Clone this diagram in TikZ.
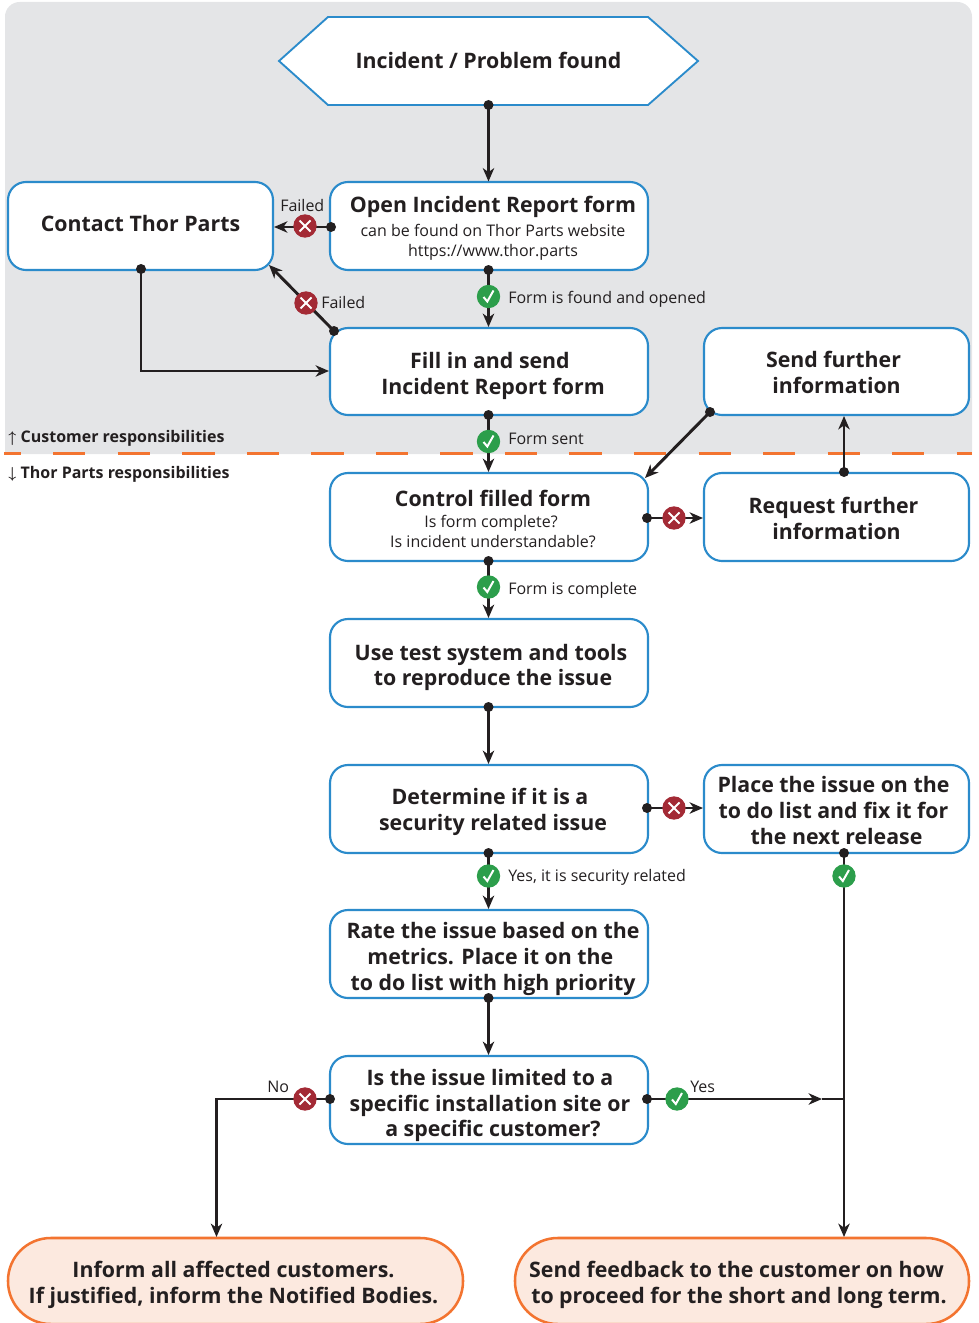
\documentclass[tikz,border=0pt]{standalone}
\usepackage{fontspec}
\setmainfont{Open Sans}
\usetikzlibrary{arrows.meta,shapes.geometric,calc}
\definecolor{ink}{HTML}{231F20}
\definecolor{bluee}{HTML}{2B8BCB}
\definecolor{orangee}{HTML}{F37430}
\definecolor{grayy}{HTML}{E4E5E7}
\definecolor{pill}{HTML}{FCE9DF}
\definecolor{redd}{HTML}{A32A35}
\definecolor{greenn}{HTML}{2C9E4B}
\newcommand{\hd}{\fontsize{16pt}{19.5pt}\selectfont\bfseries}
\newcommand{\sm}{\fontsize{12pt}{15pt}\selectfont\mdseries}
\newcommand{\tp}[1]{\rule{0pt}{\dimexpr 12.2pt+#1pt*3/2\relax}}
\tikzset{
 x=0.75pt,y=-0.75pt,
 every node/.style={text=ink,inner sep=0pt},
 box/.style n args={2}{draw=bluee,fill=white,line width=1.6pt,rounded corners=13.5pt,minimum width=#1*0.75pt,minimum height=#2*0.75pt,align=center,font=\hd},
 endbox/.style={draw=orangee,fill=pill,line width=1.9pt,rounded corners=32pt,minimum width=#1*0.75pt,minimum height=64.5pt,align=center,font=\hd},
 hexa/.style={draw=bluee,fill=white,line width=1.4pt},
 conn/.style={draw=ink,line width=2.2pt,-{Stealth[length=10pt,width=8.5pt,inset=3pt]}},
 plain/.style={draw=ink,line width=2.2pt},
 dotn/.style={circle,fill=ink,minimum size=7.5pt},
 okb/.style={circle,fill=greenn,minimum size=17.5pt,path picture={\draw[white,line width=1.5pt] ([shift={(-5,0.5)}]path picture bounding box.center) -- ([shift={(-1.2,5)}]path picture bounding box.center) -- ([shift={(5,-6)}]path picture bounding box.center);}},
 nob/.style={circle,fill=redd,minimum size=17.5pt,path picture={\draw[white,line width=1.5pt] ([shift={(-5.5,-5.5)}]path picture bounding box.center) -- ([shift={(5.5,5.5)}]path picture bounding box.center) ([shift={(-5.5,5.5)}]path picture bounding box.center) -- ([shift={(5.5,-5.5)}]path picture bounding box.center);}},
 lab/.style={font=\sm,anchor=west},
 resp/.style={font=\fontsize{12pt}{15pt}\selectfont\bfseries,anchor=west},
}
\begin{document}
\begin{tikzpicture}
\useasboundingbox (0,0) rectangle (978,1323);
\begin{scope}
\clip (0,0) rectangle (978,1323);
\fill[grayy,rounded corners=11pt] (5,2) -- (972,2) -- (972,440) -- (972,454) -- (5,454) -- cycle;
\fill[grayy] (5,420) rectangle (972,454);
\draw[orangee,line width=1.9pt,dash pattern=on 24.2pt off 24.2pt,dash phase=11.5pt] (4,453.5) -- (972,453.5);

\node[box={265}{88}] (contact) at (140.5,226) {\rule[-4pt]{0pt}{4pt}Contact Thor Parts};
\node[box={318}{88}] (open) at (489,226) {\tp{2}\hspace*{6pt}Open Incident Report form\\[-1.5pt]{\sm\hspace*{6pt}can be found on Thor Parts website}\\[-4.5pt]{\sm\hspace*{6pt}https://www.thor.parts}};
\node[box={318}{87}] (fill) at (489,371.5) {\tp{4}\hspace*{1.5pt}Fill in and send\\\hspace*{6pt}Incident Report form};
\node[box={265}{87}] (send) at (836.5,371.5) {\tp{1}\hspace*{-4.5pt}Send further\\information};
\node[box={318}{88}] (control) at (489,517) {\tp{2}\hspace*{6pt}Control filled form\\[-4pt]{\sm\hspace*{3pt}Is form complete?}\\[-4.5pt]{\sm\hspace*{6pt}Is incident understandable?}};
\node[box={265}{88}] (request) at (836.5,517) {\tp{1}\hspace*{-4.5pt}Request further\\information};
\node[box={318}{88}] (use) at (489,663) {\tp{4}\hspace*{3pt}Use test system and tools\\[-0.75pt]\hspace*{6pt}to reproduce the issue};
\node[box={318}{88}] (determine) at (489,809) {\tp{3}\hspace*{1.5pt}Determine if it is a\\\hspace*{6pt}security related issue};
\node[box={265}{88}] (place) at (836.5,809) {\tp{1}\hspace*{-4.5pt}Place the issue on the\\\hspace*{-4.5pt}to do list and fix it for\\the next release};
\node[box={318}{88}] (rate) at (489,954) {\tp{5}\hspace*{6pt}Rate the issue based on the\\\hspace*{2pt}metrics. Place it on the\\\hspace*{6pt}to do list with high priority};
\node[box={318}{88}] (issue) at (489,1100) {\tp{5}\hspace*{1.5pt}Is the issue limited to a\\\hspace*{1.5pt}specific installation site or\\[-0.75pt]\hspace*{6pt}a specific customer?};
\node[endbox=455] (inform) at (235.5,1281) {\tp{4}\hspace*{-3pt}Inform all affected customers.\\\hspace*{-3pt}If justified, inform the Notified Bodies.};
\node[endbox=454] (feedback) at (742,1281) {\tp{4}\hspace*{-8.25pt}Send feedback to the customer on how\\\hspace*{-4.5pt}to proceed for the short and long term.};

\draw[hexa] (279,61) -- (328,17) -- (648,17) -- (698,61) -- (648,105) -- (328,105) -- cycle;
\node[font=\hd] (incident) at (488.5,60) {Incident / Problem found};
\coordinate (hexb) at (488.5,105);

% junction points
\node[dotn] (d1) at (hexb) {};
\node[dotn] (d2) at (488.5,270) {};
\node[dotn] (d3) at (331,227) {};
\node[dotn] (d4) at (334,331) {};
\node[dotn] (d5) at (141,269) {};
\node[dotn] (d6) at (488.5,415) {};
\node[dotn] (d7) at (710,412) {};
\node[dotn] (d8) at (844,472) {};
\node[dotn] (d9) at (647,518) {};
\node[dotn] (d10) at (488.5,561) {};
\node[dotn] (d11) at (488.5,707) {};
\node[dotn] (d12) at (647,808) {};
\node[dotn] (d13) at (488.5,853) {};
\node[dotn] (d14) at (844,853) {};
\node[dotn] (d15) at (488.5,998) {};
\node[dotn] (d16) at (330,1099) {};
\node[dotn] (d17) at (647,1099) {};

\coordinate (t1) at (488.5,181.5);
\coordinate (t2) at (488.5,327);
\coordinate (t3) at (274,227);
\coordinate (t4) at (269,265);
\coordinate (b1) at (141,371);
\coordinate (t5) at (329,371);
\coordinate (t6) at (488.5,472);
\coordinate (t7) at (645,478);
\coordinate (t8) at (844,416);
\coordinate (t9) at (703,518);
\coordinate (t10) at (488.5,618);
\coordinate (t11) at (488.5,764);
\coordinate (t12) at (703,808);
\coordinate (t13) at (488.5,909);
\coordinate (t14) at (844,1237);
\coordinate (t15) at (488.5,1055);
\coordinate (b2) at (216.5,1099);
\coordinate (t16) at (216.5,1237);
\coordinate (b3) at (844,1099);
\coordinate (m3) at (822,1099);

\draw[conn] (d1.center) -- (t1);
\draw[conn] (d2.center) -- (t2);
\draw[conn] (d3.center) -- (t3);
\draw[conn] (d4.center) -- (t4);
\draw[conn] (d5.center) -- (b1) -- (t5);
\draw[conn] (d6.center) -- (t6);
\draw[conn] (d7.center) -- (t7);
\draw[conn] (d8.center) -- (t8);
\draw[conn] (d9.center) -- (t9);
\draw[conn] (d10.center) -- (t10);
\draw[conn] (d11.center) -- (t11);
\draw[conn] (d12.center) -- (t12);
\draw[conn] (d13.center) -- (t13);
\draw[conn] (d14.center) -- (t14);
\draw[conn] (d15.center) -- (t15);
\draw[conn] (d16.center) -- (b2) -- (t16);
\draw[conn] (d17.center) -- (m3);
\draw[plain] (m3) -- (b3);

\node[okb] (g1) at (488.5,296.5) {};
\node[nob] (r1) at (305,226) {};
\node[nob] (r2) at (306,303) {};
\node[okb] (g2) at (488.5,441.5) {};
\node[nob] (r3) at (674,518) {};
\node[okb] (g3) at (488.5,587) {};
\node[nob] (r4) at (674,808) {};
\node[okb] (g4) at (488.5,876) {};
\node[okb] (g5) at (844,876) {};
\node[nob] (r5) at (305,1099) {};
\node[okb] (g6) at (677,1099) {};

\node[lab] (lf1) at (280,206) {Failed};
\node[lab] (lf2) at (321,302) {Failed};
\node[lab] (lo1) at (508,299) {Form is found and opened};
\node[lab] (lo2) at (508,439) {Form sent};
\node[lab] (lo3) at (508,590) {Form is complete};
\node[lab] (lo4) at (508,877) {Yes, it is security related};
\node[lab] (lno) at (267,1087) {No};
\node[lab] (lyes) at (690,1087) {Yes};
\node[resp] (rc) at (8,438) {{\fontfamily{lmr}\selectfont\char"2191}\kern3.3pt Customer responsibilities};
\node[resp] (rt) at (8,474) {{\fontfamily{lmr}\selectfont\char"2193}\kern3.3pt Thor Parts responsibilities};
\end{scope}
\end{tikzpicture}
\end{document}
